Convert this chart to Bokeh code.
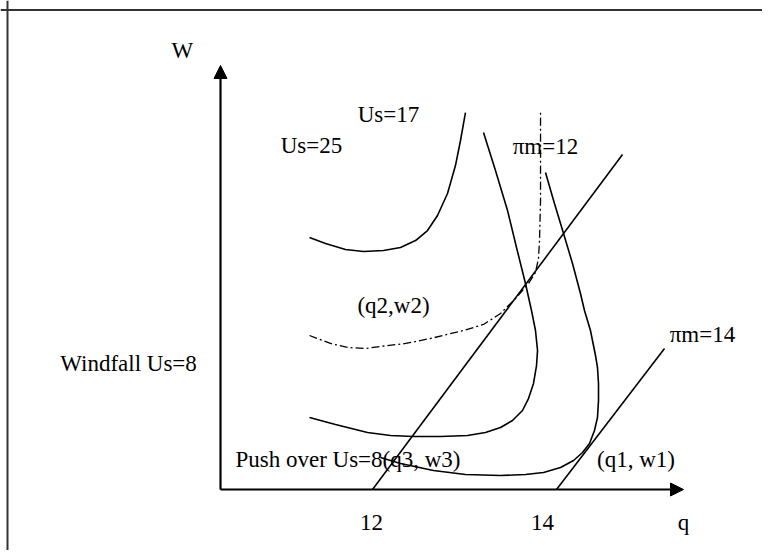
from bokeh.plotting import figure
from bokeh.models import Range1d, Arrow, NormalHead, Span, ColumnDataSource
from bokeh.core.properties import value
from bokeh.embed import file_html
from bokeh.resources import INLINE

# ---- data (q on the horizontal axis, W on the vertical axis) ----
# Us=17 upper curve
curve_a_q = [11.275, 11.462, 11.696, 11.906, 12.140, 12.339, 12.515, 12.655, 12.772, 12.889, 12.982, 13.041, 13.099]
curve_a_w = [2.947, 2.877, 2.807, 2.784, 2.795, 2.830, 2.912, 3.029, 3.205, 3.462, 3.789, 4.082, 4.409]

# dash-dot curve
curve_b_q = [11.275, 11.520, 11.719, 11.930, 12.105, 12.398, 12.690, 13.076, 13.310, 13.509, 13.684, 13.836, 13.918, 13.953, 13.965, 13.977, 13.977, 13.977]
curve_b_w = [1.801, 1.708, 1.661, 1.649, 1.673, 1.708, 1.766, 1.860, 1.930, 2.058, 2.234, 2.409, 2.538, 2.702, 2.912, 3.380, 3.965, 4.409]

# inner curve
curve_c_q = [11.275, 11.579, 11.953, 12.222, 12.491, 12.807, 13.123, 13.333, 13.509, 13.649, 13.766, 13.836, 13.895, 13.930, 13.942, 13.918, 13.871, 13.801, 13.696, 13.591, 13.450, 13.310]
curve_c_w = [0.842, 0.760, 0.667, 0.632, 0.620, 0.620, 0.632, 0.667, 0.725, 0.807, 0.924, 1.064, 1.240, 1.450, 1.626, 1.860, 2.094, 2.409, 2.830, 3.263, 3.731, 4.175]

# outer curve (Us=8)
curve_d_q = [12.105, 12.339, 12.725, 13.099, 13.509, 13.801, 14.012, 14.211, 14.363, 14.468, 14.550, 14.608, 14.643, 14.655, 14.655, 14.643, 14.620, 14.561, 14.491, 14.444, 14.351, 14.246, 14.140, 14.035]
curve_d_w = [0.374, 0.304, 0.222, 0.175, 0.164, 0.175, 0.199, 0.257, 0.339, 0.433, 0.538, 0.690, 0.842, 1.041, 1.240, 1.427, 1.567, 1.860, 2.094, 2.292, 2.643, 2.994, 3.345, 3.708]

# iso-profit lines
line_pm12_q = [12.012, 14.936]
line_pm12_w = [0.0, 3.918]
line_pm14_q = [14.164, 15.427]
line_pm14_w = [0.0, 1.649]

# axes
axis_origin = (10.234, 0.0)
axis_q_end = 15.649
axis_w_end = 4.959

tick_values = [12, 14]
tick_labels = ["12", "14"]

labels = ["W", "Us=17", "Us=25", "πm=12", "(q2,w2)", "Windfall Us=8", "πm=14",
          "Push over Us=8(q3, w3)", "(q1, w1)", "q"]
label_q = [9.789, 12.199, 11.298, 14.035, 12.257, 9.158, 15.871, 11.725, 15.094, 15.649]
label_w = [5.135, 4.386, 4.023, 4.012, 2.152, 1.474, 1.813, 0.351, 0.351, -0.386]

# ---- figure ----
p = figure(width=762, height=550, output_backend="svg", toolbar_location=None,
           x_range=Range1d(7.66082, 16.57310), y_range=Range1d(-0.71345, 5.71930),
           x_axis_location=None, y_axis_location=None, min_border=0)
p.outline_line_color = None
p.xgrid.visible = False
p.ygrid.visible = False
p.background_fill_color = "white"

# frame (top and left edges visible)
p.add_layout(Span(location=5.608, dimension="width", line_color="#333333", line_width=2))
p.add_layout(Span(location=7.7427, dimension="height", line_color="#333333", line_width=2))

lw = 1.6
p.line(curve_a_q, curve_a_w, line_color="black", line_width=lw)
p.line(curve_b_q, curve_b_w, line_color="black", line_width=1.3, line_dash="8 3 2 3")
p.line(curve_c_q, curve_c_w, line_color="black", line_width=lw)
p.line(curve_d_q, curve_d_w, line_color="black", line_width=lw)
p.line(line_pm12_q, line_pm12_w, line_color="black", line_width=lw)
p.line(line_pm14_q, line_pm14_w, line_color="black", line_width=lw)

# axes with arrow heads
p.add_layout(Arrow(end=NormalHead(size=13, fill_color="black", line_color="black"),
                   x_start=axis_origin[0], y_start=axis_origin[1],
                   x_end=axis_q_end, y_end=axis_origin[1], line_width=2.2, line_color="black"))
p.add_layout(Arrow(end=NormalHead(size=13, fill_color="black", line_color="black"),
                   x_start=axis_origin[0], y_start=axis_origin[1],
                   x_end=axis_origin[0], y_end=axis_w_end, line_width=2.2, line_color="black"))

font = value("Liberation Serif")

# tick labels
p.text(x=tick_values, y=[-0.386] * len(tick_values), text=tick_labels,
       text_font=font, text_font_size="23px", text_align="center",
       text_baseline="middle", text_color="black")

src = ColumnDataSource(dict(x=label_q, y=label_w, t=labels))
p.text(x="x", y="y", text="t", source=src, text_font=font, text_font_size="23px",
       text_align="center", text_baseline="middle", text_color="black")

open("out.html", "w").write(file_html(p, INLINE))
